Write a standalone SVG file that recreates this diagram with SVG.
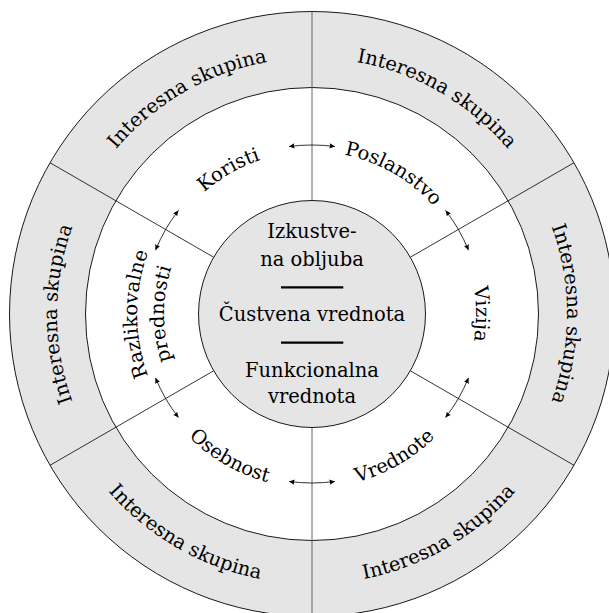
<svg xmlns="http://www.w3.org/2000/svg" width="609" height="613" viewBox="0 0 609 613">
<style>
.band{fill:#e5e5e5;stroke:#000;stroke-width:0.9}
.hole{fill:#fff;stroke:#000;stroke-width:0.9}
.div{stroke:#000;stroke-width:0.8;fill:none}
.vdiv{stroke:#666;stroke-width:1;fill:none}
.arr{stroke:#000;stroke-width:0.8;fill:none;marker-start:url(#ah);marker-end:url(#ah)}
.bar{stroke:#000;stroke-width:2.2}
text{font-family:"DejaVu Serif","Liberation Serif",serif;font-size:19.5px;fill:#000}
</style>
<defs>
<marker id="ah" viewBox="-6 -3 7 6" refX="0" refY="0" markerWidth="7" markerHeight="6" markerUnits="userSpaceOnUse" orient="auto-start-reverse">
<path d="M0,0 L-5.5,-2.6 Q-4,0 -5.5,2.6 Z" fill="#000"/>
</marker>
<path id="o-tl" d="M90.30,186 A256,256 0 0 1 312,58"/>
<path id="o-tr" d="M312,58 A256,256 0 0 1 533.70,186"/>
<path id="o-r" d="M532.84,186.5 A255,255 0 0 1 532.84,441.5"/>
<path id="o-l" d="M91.16,441.5 A255,255 0 0 1 91.16,186.5"/>
<path id="o-bl" d="M78.17,449 A270,270 0 0 0 312,584"/>
<path id="o-br" d="M312,584 A270,270 0 0 0 545.83,449"/>
<path id="i-kor" d="M171.27,232.75 A162.5,162.5 0 0 1 312,151.5"/>
<path id="i-pos" d="M312,151.5 A162.5,162.5 0 0 1 452.73,232.75"/>
<path id="i-viz" d="M454.03,232 A164,164 0 0 1 454.03,396"/>
<path id="i-raz1" d="M160.45,401.5 A175,175 0 0 1 160.45,226.5"/>
<path id="i-raz2" d="M183.83,388 A148,148 0 0 1 183.83,240"/>
<path id="i-ose" d="M161.31,401 A174,174 0 0 0 312,488"/>
<path id="i-vre" d="M312,488 A174,174 0 0 0 462.69,401"/>
</defs>

<g id="rings">
<circle class="band" cx="312" cy="314" r="302.5"/>
<circle class="hole" cx="312" cy="314" r="226.5"/>
</g>

<g id="dividers">
<line class="vdiv" x1="312" y1="200.5" x2="312" y2="11.5"/>
<line class="div" x1="410.29" y1="257.25" x2="573.97" y2="162.75"/>
<line class="div" x1="410.29" y1="370.75" x2="573.97" y2="465.25"/>
<line class="vdiv" x1="312" y1="427.5" x2="312" y2="616.5"/>
<line class="div" x1="213.71" y1="257.25" x2="50.03" y2="162.75"/>
<line class="div" x1="213.71" y1="370.75" x2="50.03" y2="465.25"/>
</g>

<g id="center">
<circle class="band" cx="312" cy="314" r="113.5"/>
<text x="312" y="238.3" text-anchor="middle">Izkustve-</text>
<text x="312" y="266" text-anchor="middle">na obljuba</text>
<line class="bar" x1="281" y1="287.3" x2="343.3" y2="287.3"/>
<text x="312" y="320.7" text-anchor="middle">Čustvena vrednota</text>
<line class="bar" x1="281" y1="342.7" x2="343.3" y2="342.7"/>
<text x="312" y="376.7" text-anchor="middle">Funkcionalna</text>
<text x="312" y="403.3" text-anchor="middle">vrednota</text>
</g>

<g id="koristi"><text><textPath href="#i-kor" startOffset="50%" text-anchor="middle">Koristi</textPath></text></g>
<g id="poslanstvo"><text><textPath href="#i-pos" startOffset="50%" text-anchor="middle">Poslanstvo</textPath></text></g>
<g id="vizija"><text><textPath href="#i-viz" startOffset="50%" text-anchor="middle">Vizija</textPath></text></g>
<g id="vrednote"><text><textPath href="#i-vre" startOffset="50%" text-anchor="middle">Vrednote</textPath></text></g>
<g id="osebnost"><text><textPath href="#i-ose" startOffset="50%" text-anchor="middle">Osebnost</textPath></text></g>
<g id="razlikovalne"><text><textPath href="#i-raz1" startOffset="50%" text-anchor="middle">Razlikovalne</textPath></text><text><textPath href="#i-raz2" startOffset="50%" text-anchor="middle">prednosti</textPath></text></g>

<g id="skupina-tl"><text><textPath href="#o-tl" startOffset="50%" text-anchor="middle">Interesna skupina</textPath></text></g>
<g id="skupina-tr"><text><textPath href="#o-tr" startOffset="50%" text-anchor="middle">Interesna skupina</textPath></text></g>
<g id="skupina-r"><text><textPath href="#o-r" startOffset="50%" text-anchor="middle">Interesna skupina</textPath></text></g>
<g id="skupina-br"><text><textPath href="#o-br" startOffset="50%" text-anchor="middle">Interesna skupina</textPath></text></g>
<g id="skupina-bl"><text><textPath href="#o-bl" startOffset="50%" text-anchor="middle">Interesna skupina</textPath></text></g>
<g id="skupina-l"><text><textPath href="#o-l" startOffset="50%" text-anchor="middle">Interesna skupina</textPath></text></g>

<g id="connectors">
<path class="arr" d="M289.06,146.56 A169,169 0 0 1 334.94,146.56"/>
<path class="arr" d="M445.54,210.42 A169,169 0 0 1 468.47,250.15"/>
<path class="arr" d="M468.47,377.85 A169,169 0 0 1 445.54,417.58"/>
<path class="arr" d="M334.94,481.44 A169,169 0 0 1 289.06,481.44"/>
<path class="arr" d="M178.46,417.58 A169,169 0 0 1 155.53,377.85"/>
<path class="arr" d="M155.53,250.15 A169,169 0 0 1 178.46,210.42"/>
</g>
</svg>
